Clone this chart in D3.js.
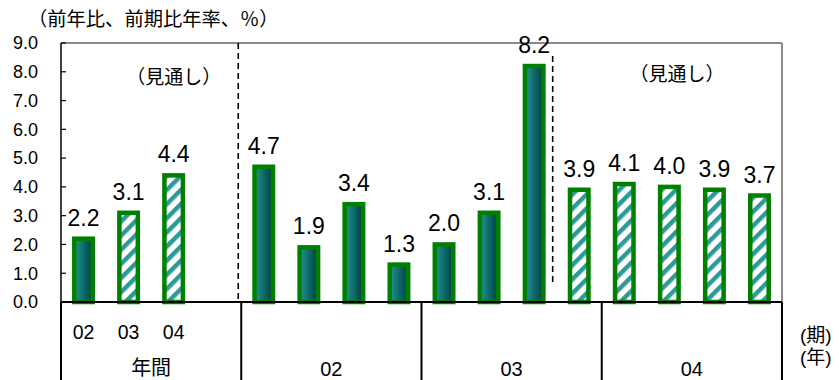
<!DOCTYPE html>
<html><head><meta charset="utf-8">
<script src="https://cdn.jsdelivr.net/npm/d3@7"></script>
<style>
body{margin:0;background:#fff;}
svg{display:block;}
text{font-family:"Liberation Sans","Noto Sans CJK JP",sans-serif;fill:#000;}
</style></head>
<body><svg id="c" width="839" height="380"></svg>
<script>
// ---- data ----
const annualLabels = ["02","03","04"];
const annualValues = [2.2, 3.1, 4.4];
const annualForecast = [false, true, true];
const quarterYears = ["02","03","04"];
const quarterValues = [
  [4.7, 1.9, 3.4, 1.3],
  [2.0, 3.1, 8.2, 3.9],
  [4.1, 4.0, 3.9, 3.7]
];
const quarterForecast = [
  [false,false,false,false],
  [false,false,false,true],
  [true,true,true,true]
];
const yTicks = [0,1,2,3,4,5,6,7,8,9];
const titleText = "（前年比、前期比年率、％）";
const forecastText = "（見通し）";
const annualGroupText = "年間";
const unitPeriod = "(期)";
const unitYear = "(年)";

// ---- build slot list ----
const bars = [];
annualLabels.forEach((l,i)=>bars.push({slot:i, label:l, value:annualValues[i], fc:annualForecast[i]}));
const gapSlot = annualLabels.length;
quarterYears.forEach((y,g)=>quarterValues[g].forEach((v,q)=>{
  bars.push({slot: gapSlot+1+g*4+q, value:v, fc:quarterForecast[g][q], group:g});
}));
const nSlots = gapSlot + 1 + quarterYears.length*4;

const svg = d3.select("#c");
const L=61, R=782, T=43, B=302;
const x = d3.scaleBand().domain(d3.range(nSlots)).range([L,R]).paddingInner(0.59).paddingOuter(0.295);
const y = d3.scaleLinear().domain([0,9]).range([B,T]);
const step = x.step();
const bw = x.bandwidth();
const cx = s => x(s)+bw/2;

const defs = svg.append("defs");
const grad = defs.append("linearGradient").attr("id","solid").attr("x1","0").attr("x2","1").attr("y1","0").attr("y2","0");
grad.append("stop").attr("offset","0%").attr("stop-color","#2a9393");
grad.append("stop").attr("offset","45%").attr("stop-color","#0e6f6f");
grad.append("stop").attr("offset","100%").attr("stop-color","#003c3c");
const pat = defs.append("pattern").attr("id","hatch").attr("patternUnits","userSpaceOnUse")
  .attr("width",10).attr("height",10).attr("patternTransform","rotate(45)");
pat.append("rect").attr("width",10).attr("height",10).attr("fill","#fff");
pat.append("rect").attr("width",4.5).attr("height",10).attr("fill","#2e9999");

// plot border (top / right gray)
svg.append("line").attr("x1",L).attr("x2",R).attr("y1",T).attr("y2",T).attr("stroke","#8a8a8a").attr("stroke-width",2);
svg.append("line").attr("x1",R).attr("x2",R).attr("y1",T).attr("y2",B).attr("stroke","#8a8a8a").attr("stroke-width",2);

// dashed separators
const sep1 = x(gapSlot+1) - (step-bw)/2 - 3;
const sep2 = x(gapSlot+1+4+3) - (step-bw)/2 - 4;
svg.append("line").attr("x1",sep1).attr("x2",sep1).attr("y1",T).attr("y2",B)
  .attr("stroke","#000").attr("stroke-width",1.6).attr("stroke-dasharray","6,4");
svg.append("line").attr("x1",sep2).attr("x2",sep2).attr("y1",y(8.2)-10).attr("y2",y(0.6))
  .attr("stroke","#000").attr("stroke-width",1.6).attr("stroke-dasharray","6,4");

// bars
svg.append("g").selectAll("rect").data(bars).join("rect")
  .attr("x",d=>x(d.slot)).attr("width",bw)
  .attr("y",d=>y(d.value)).attr("height",d=>y(0)-y(d.value))
  .attr("fill",d=>d.fc?"url(#hatch)":"url(#solid)")
  .attr("stroke","#008000").attr("stroke-width",4.5);

// value labels
svg.append("g").selectAll("text").data(bars).join("text")
  .attr("x",d=>cx(d.slot)).attr("y",d=>y(d.value)-13)
  .attr("text-anchor","middle").attr("font-size",23)
  .text(d=>d.value.toFixed(1));

// y axis
svg.append("line").attr("x1",L).attr("x2",L).attr("y1",T).attr("y2",B).attr("stroke","#000").attr("stroke-width",1.5);
const yt = svg.append("g");
yTicks.forEach(t=>{
  yt.append("line").attr("x1",L).attr("x2",L+5).attr("y1",y(t)).attr("y2",y(t)).attr("stroke","#000").attr("stroke-width",1.2);
  yt.append("text").attr("x",38).attr("y",y(t)).attr("dy","0.35em").attr("text-anchor","end").attr("font-size",18).text(t.toFixed(1));
});

// bottom axis + category table
svg.append("line").attr("x1",L).attr("x2",R).attr("y1",B).attr("y2",B).attr("stroke","#000").attr("stroke-width",2);
const bounds = [L, x(gapSlot+1)-(step-bw)/2];
quarterYears.forEach((yy,g)=>bounds.push(x(gapSlot+1+g*4+3)+bw+(step-bw)/2));
bounds.forEach(bx=>svg.append("line").attr("x1",bx).attr("x2",bx).attr("y1",B).attr("y2",380).attr("stroke","#000").attr("stroke-width",2));

// annual sub labels
annualLabels.forEach((l,i)=>svg.append("text").attr("x",cx(i)).attr("y",332).attr("dy","0.35em")
  .attr("text-anchor","middle").attr("font-size",19.5).text(l));
svg.append("text").attr("x",(bounds[0]+bounds[1])/2).attr("y",368).attr("dy","0.35em")
  .attr("text-anchor","middle").attr("font-size",20).text(annualGroupText);
quarterYears.forEach((yy,g)=>svg.append("text").attr("x",(bounds[g+1]+bounds[g+2])/2).attr("y",369).attr("dy","0.35em")
  .attr("text-anchor","middle").attr("font-size",20).text(yy));

// titles
svg.append("text").attr("x",28).attr("y",19).attr("dy","0.35em").attr("font-size",19.3).text(titleText);
svg.append("text").attr("x",cx(2)).attr("y",77).attr("dy","0.35em").attr("text-anchor","middle").attr("font-size",19).text(forecastText);
svg.append("text").attr("x",677).attr("y",74).attr("dy","0.35em").attr("text-anchor","middle").attr("font-size",19).text(forecastText);
svg.append("text").attr("x",800).attr("y",335).attr("dy","0.35em").attr("font-size",19).text(unitPeriod);
svg.append("text").attr("x",800).attr("y",357).attr("dy","0.35em").attr("font-size",19).text(unitYear);
</script></body></html>
